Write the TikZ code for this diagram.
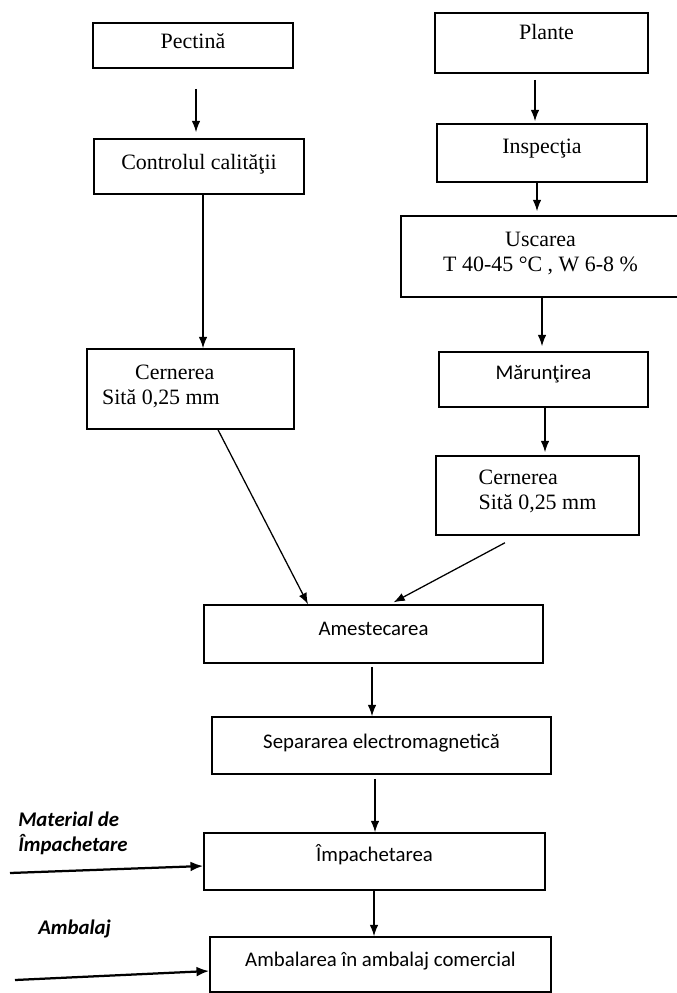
\documentclass[tikz,border=0pt]{standalone}
\usepackage{fontspec}
\setmainfont{Liberation Serif}
\newfontfamily\carlito{Carlito}
\usetikzlibrary{arrows.meta}

\begin{document}
\begin{tikzpicture}[x=0.025cm, y=-0.025cm,
    box/.style={draw, line width=1.1pt, inner sep=2pt, text depth=6.5pt,
      font=\fontsize{15.6}{17.8}\selectfont},
    sbox/.style={box, font=\carlito\fontsize{14.8}{17.8}\selectfont},
    note/.style={inner sep=0pt, font=\carlito\bfseries\itshape\fontsize{14.8}{17.8}\selectfont},
    arr/.style={-{Latex[length=8pt,width=6pt]}, line width=0.9pt},
    inarr/.style={-{Latex[length=9pt,width=7pt]}, line width=1.6pt}]
    \useasboundingbox (0,0) rectangle (677,993);
    \clip (0,0) rectangle (677,993);
    % pectina
    \node[box, minimum width=5cm, minimum height=1.125cm, text depth=6.2pt] (Pe) at (193,45.5) {Pectină};
    \node[box, minimum width=5.25cm, minimum height=1.375cm, text depth=6.4pt] (Co) at (199,166.5) {Controlul calităţii};
    \node[box, minimum width=5.175cm, minimum height=2cm, text depth=6.1pt, align=left] (CeL) at (190.5,389)
      {\hspace*{0.825cm}Cernerea\\Sită 0,25 mm\hspace*{1.475cm}};
    % plante
    \node[box, minimum width=5.325cm, minimum height=1.5cm, text depth=15.3pt] (Pl) at (541.5,43) {\hspace*{0.25cm}Plante};
    \node[box, minimum width=5.25cm, minimum height=1.45cm, text depth=9.7pt] (In) at (542,153) {Inspecţia};
    \node[box, minimum width=6.975cm, minimum height=2.025cm, text depth=6.7pt, align=center] (Us) at (540.5,256.5)
      {Uscarea\\T 40-45 °C , W 6-8 \%};
    \node[sbox, minimum width=5.225cm, minimum height=1.375cm, text depth=10.7pt] (Ma) at (543.5,379.5) {Mărunţirea};
    \node[box, minimum width=5.075cm, minimum height=1.975cm, text depth=8.3pt, align=left] (CeR) at (537.5,495.5)
      {Cernerea\\Sită 0,25 mm};
    % common line
    \node[sbox, minimum width=8.475cm, minimum height=1.45cm, text depth=7.8pt] (Am) at (373.5,634) {Amestecarea};
    \node[sbox, minimum width=8.475cm, minimum height=1.425cm, text depth=6.5pt] (Se) at (381.5,745.5) {Separarea electromagnetică};
    \node[sbox, minimum width=8.525cm, minimum height=1.425cm, text depth=12.1pt] (Im) at (374.5,861.5) {Împachetarea};
    \node[sbox, minimum width=8.525cm, minimum height=1.375cm, text depth=8pt] (Amb) at (380.5,964.5) {Ambalarea în ambalaj comercial};
    % inputs
    \node[note, anchor=west, align=left] (mat) at (18,833) {Material de\\Împachetare};
    \node[note, anchor=west] (amb) at (38,929) {Ambalaj};
    \coordinate (m1) at (10,873);
    \coordinate (a1) at (15,980);
    \path[arr]
      (Pe.south -| 196,0) edge[shorten <=0.5cm, shorten >=0.15cm] (Co.north -| 196,0)
      (Co.south -| 203,0) edge (CeL.north -| 203,0)
      (Pl.south -| 535,0) edge[shorten <=0.15cm, shorten >=0.05cm] (In.north -| 535,0)
      (In.south -| 537,0) edge[shorten >=0.1cm] (Us.north -| 537,0)
      (Us.south -| 542,0) edge[shorten >=0.125cm] (Ma.north -| 542,0)
      (Ma.south -| 545,0) edge[shorten >=0.075cm] (CeR.north -| 545,0)
      (CeL.south -| 218,0) edge (Am.north -| 308,0)
      (CeR.south -| 518,0) edge[shorten <=0.37cm, shorten >=0.1cm] (Am.north -| 390,0)
      (Am.south -| 372,0) edge[shorten <=0.075cm] (Se.north -| 372,0)
      (Se.south -| 375,0) edge[shorten <=0.1cm] (Im.north -| 375,0)
      (Im.south -| 374,0) edge (Amb.north -| 374,0);
    \draw[inarr] (m1) -- (Im.west |- 0,866);
    \draw[inarr] (a1) -- (Amb.west |- 0,971);
\end{tikzpicture}
\end{document}
